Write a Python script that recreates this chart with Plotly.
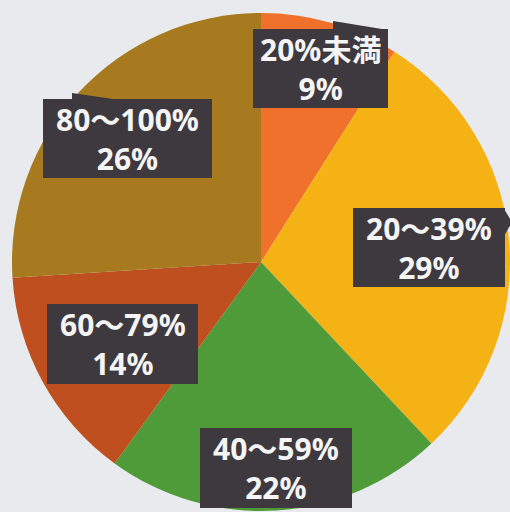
import plotly.graph_objects as go

# Share of respondents by rate band (clockwise from 12 o'clock)
categories = ["20%未満", "20〜39%", "40〜59%", "60〜79%", "80〜100%"]
shares = [9, 29, 22, 14, 26]
colors = ["#F0712B", "#F5B214", "#4F9B39", "#BF4F1E", "#A87A1F"]

# Callout box centres in pixels (x, y from top-left) and box sizes
box_centers = [(320.5, 68.5), (429, 247.5), (276, 468), (122.5, 344), (127.5, 138.5)]
box_sizes = [(135, 79), (152, 79), (152, 80), (151, 80), (169, 79)]

W, H = 510, 512
ML, MT = 12, 12
PW, PH = W - ML, H - MT

BOX = "#3D393E"
BG = "#E8EAED"
FONT = "Noto Sans, Noto Sans CJK JP"


def fx(px):
    return (px - ML) / PW


def fy(py):
    return 1 - (py - MT) / PH


fig = go.Figure(
    go.Pie(
        labels=categories,
        values=shares,
        sort=False,
        direction="clockwise",
        rotation=0,
        marker=dict(colors=colors, line=dict(width=0)),
        textinfo="none",
        hoverinfo="label+percent",
        showlegend=False,
    )
)

shapes = []
annotations = []
for cat, val, (cx, cy), (bw, bh) in zip(categories, shares, box_centers, box_sizes):
    shapes.append(dict(
        type="rect", xref="paper", yref="paper",
        x0=fx(cx - bw / 2), x1=fx(cx + bw / 2),
        y0=fy(cy + bh / 2), y1=fy(cy - bh / 2),
        fillcolor=BOX, line=dict(width=0), layer="above",
    ))
    annotations.append(dict(
        x=fx(cx), y=fy(cy), xref="paper", yref="paper",
        text=f"{cat}<br>{val}%", showarrow=False,
        xanchor="center", yanchor="middle", align="center",
        font=dict(family=FONT, size=30, color="#F4F4F4", weight="bold"),
    ))


def tri(pts):
    d = "M " + " L ".join(f"{fx(x)},{fy(y)}" for x, y in pts) + " Z"
    return dict(type="path", xref="paper", yref="paper", path=d,
                fillcolor=BOX, line=dict(width=0), layer="above")


# Callout tails
shapes.append(tri([(333, 21), (388, 30), (333, 30)]))
shapes.append(tri([(504, 209), (512, 222), (504, 236)]))
shapes.append(tri([(72, 93), (120, 100), (72, 100)]))

fig.update_layout(
    width=W, height=H,
    margin=dict(l=ML, r=0, t=MT, b=0),
    paper_bgcolor=BG, plot_bgcolor=BG,
    shapes=shapes, annotations=annotations,
)

fig.write_html("out.html")
